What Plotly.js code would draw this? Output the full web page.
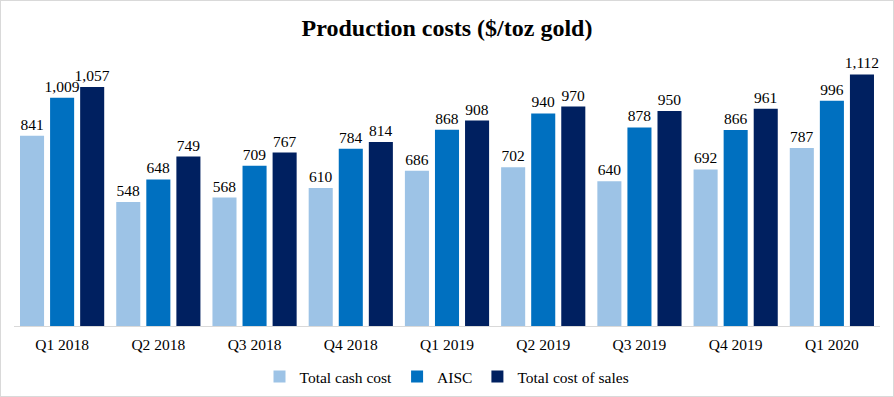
<!DOCTYPE html>
<html><head><meta charset="utf-8">
<script src="https://cdn.plot.ly/plotly-3.0.1.min.js"></script>
<style>
html,body{margin:0;padding:0;background:#fff;}
#chart{width:892px;height:395px;border:1px solid #d9d9d9;}
</style></head>
<body><div id="chart"></div>
<script>
const categories = ["Q1 2018","Q2 2018","Q3 2018","Q4 2018","Q1 2019","Q2 2019","Q3 2019","Q4 2019","Q1 2020"];
const totalCashCost = [841,548,568,610,686,702,640,692,787];
const aisc = [1009,648,709,784,868,940,878,866,996];
const totalCostOfSales = [1057,749,767,814,908,970,950,961,1112];

const font = "'Liberation Serif','Times New Roman',serif";
function tr(name, y, color){
  return {type:'bar', name:name, x:categories, y:y,
    marker:{color:color}, texttemplate:'%{y:,}', textposition:'outside',
    constraintext:'none',
    textfont:{family:font,size:15.5,color:'#000'}, cliponaxis:false, hoverinfo:'none'};
}
const data = [
  tr('Total cash cost', totalCashCost, '#9DC3E6'),
  tr('AISC', aisc, '#0070C0'),
  tr('Total cost of sales', totalCostOfSales, '#002060')
];
const layout = {
  width:892, height:395,
  margin:{l:13,r:13,t:59,b:70},
  paper_bgcolor:'#fff', plot_bgcolor:'#fff',
  font:{family:font,size:15.5,color:'#000'},
  title:{text:'<b>Production costs ($/toz gold)</b>', font:{family:font,size:24,color:'#000'},
    x:0.5, xanchor:'center', yref:'container', y:1-27/395, yanchor:'middle'},
  barmode:'group', bargap:0.0625, bargroupgap:0.2,
  xaxis:{showline:true, linecolor:'#d9d9d9', linewidth:1, ticks:'', automargin:false, ticklabelstandoff:4,
    tickfont:{family:font,size:15.5,color:'#000'}, showgrid:false, zeroline:false},
  yaxis:{visible:false, range:[0,1176], showgrid:false, zeroline:false},
  showlegend:true,
  legend:{orientation:'h', x:0.5, xanchor:'center', yref:'container', y:1-376/395, yanchor:'middle',
    font:{family:font,size:15.5,color:'#000'}, itemwidth:30, traceorder:'normal'}
};
Plotly.newPlot('chart', data, layout, {staticPlot:true});
</script></body></html>
